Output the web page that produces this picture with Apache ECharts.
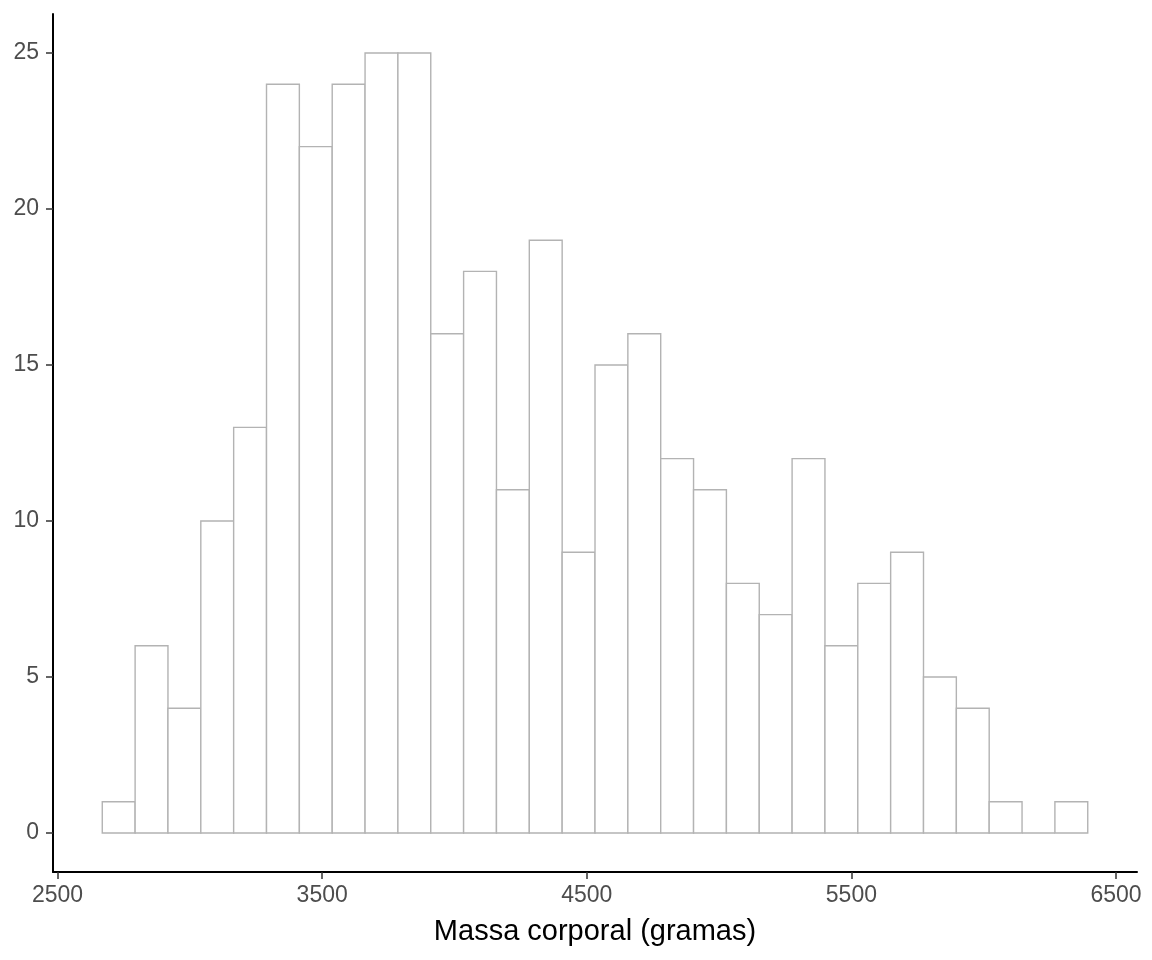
<!DOCTYPE html>
<html>
<head>
<meta charset="utf-8">
<script src="https://cdn.jsdelivr.net/npm/echarts@6/dist/echarts.min.js"></script>
<style>
  html, body { margin: 0; padding: 0; background: #fff; }
  #chart { width: 1152px; height: 960px; }
</style>
</head>
<body>
<div id="chart"></div>
<script>
// contagens por classe (30 classes)
const counts = [1, 6, 4, 10, 13, 24, 22, 24, 25, 25, 16, 18, 11, 19, 9,
                15, 16, 12, 11, 8, 7, 12, 6, 8, 9, 5, 4, 1, 0, 1];
// limites das classes: origem e largura
const binOrigin = 2668.97;
const binWidth = 124.14;
const xTicks = [2500, 3500, 4500, 5500, 6500];
const yTicks = [0, 5, 10, 15, 20, 25];
const xTitle = 'Massa corporal (gramas)';

const bins = counts.map((c, i) => [binOrigin + i * binWidth, binOrigin + (i + 1) * binWidth, c]);

const chart = echarts.init(document.getElementById('chart'));

const axisCommon = {
  axisLine: { show: true, onZero: false, lineStyle: { color: '#000', width: 2 } },
  axisTick: { show: true, length: 7, lineStyle: { color: '#333', width: 1.5 } },
  splitLine: { show: false },
};

chart.setOption({
  animation: false,
  textStyle: { fontFamily: 'Liberation Sans, Arial, sans-serif' },
  grid: { left: 53, right: 15, top: 14, bottom: 88 },
  xAxis: {
    ...axisCommon,
    type: 'value',
    min: 2482.8,
    max: 6579.3,
    axisTick: { ...axisCommon.axisTick, customValues: xTicks },
    axisLabel: { customValues: xTicks, formatter: v => String(v), color: '#4d4d4d', fontSize: 23, margin: 12 },
    name: xTitle,
    nameLocation: 'middle',
    nameGap: 45,
    nameTextStyle: { color: '#000', fontSize: 29 },
  },
  yAxis: {
    ...axisCommon,
    type: 'value',
    min: -1.25,
    max: 26.25,
    axisTick: { ...axisCommon.axisTick, customValues: yTicks },
    axisLabel: { customValues: yTicks, formatter: v => String(v), color: '#4d4d4d', fontSize: 23, margin: 14 },
  },
  series: [{
    type: 'custom',
    data: bins,
    encode: { x: [0, 1], y: 2 },
    renderItem: (params, api) => {
      const p0 = api.coord([api.value(0), api.value(2)]);
      const p1 = api.coord([api.value(1), 0]);
      return {
        type: 'rect',
        shape: { x: p0[0], y: p0[1], width: p1[0] - p0[0], height: p1[1] - p0[1] },
        style: { fill: '#fff', stroke: '#b3b3b3', lineWidth: 1.4 },
      };
    },
  }],
});
</script>
</body>
</html>
